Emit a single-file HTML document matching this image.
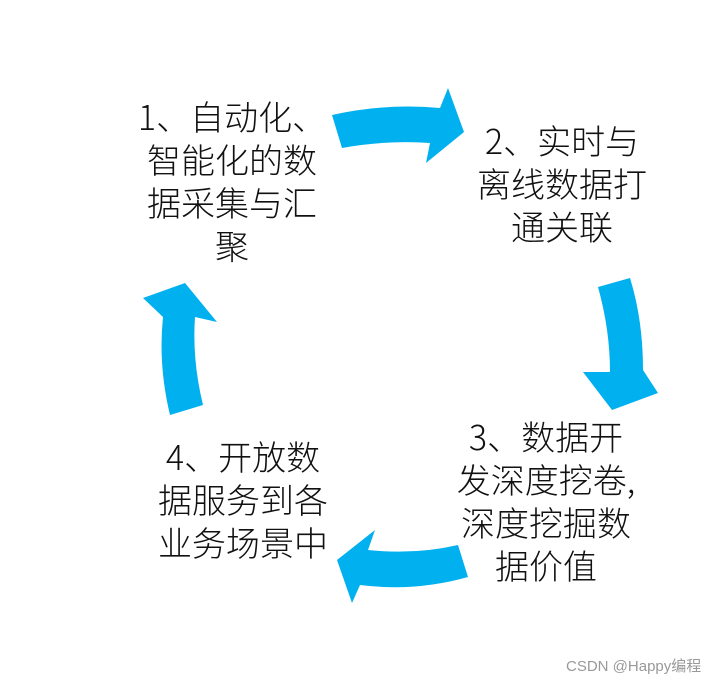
<!DOCTYPE html>
<html><head><meta charset="utf-8"><style>
body{margin:0;width:723px;height:684px;background:#fff;position:relative;overflow:hidden;font-family:"Liberation Sans","Noto Sans CJK SC",sans-serif}
.t{position:absolute;font-family:"Noto Sans CJK SC","Liberation Sans",sans-serif;font-size:34px;line-height:43px;text-align:center;color:#111;white-space:nowrap;transform:translateX(-50%);font-weight:300}
.w{position:absolute;left:566px;top:655px;font-size:15px;color:#999}
svg{position:absolute;left:0;top:0}
</style></head><body>
<svg width="723" height="684">
<g fill="#00b0ef">
<path d="M332,115 Q385,103 440,108 L448,88 L464,132 L426,163 L430,143 Q385,140 342,148 Z"/>
<path d="M598,287 L630,278 Q643,320 643,370 L658,393 L612,410 L583,372 L610,372 Q610,330 598,287 Z"/>
<path d="M458,545 L468,577 Q415,592 360,585 L352,603 L337,560 L375,530 L368,550 Q415,555 458,545 Z"/>
<path d="M170,415 L203,405 Q192,360 195,317 L217,322 L185,283 L143,298 L163,317 Q158,365 170,415 Z"/>
</g>
</svg>
<div class="t" style="left:232px;top:94px">1、自动化、<br>智能化的数<br>据采集与汇<br>聚</div>
<div class="t" style="left:562px;top:118px">2、实时与<br>离线数据打<br>通关联</div>
<div class="t" style="left:546px;top:414px">3、数据开<br>发深度挖卷,<br>深度挖掘数<br>据价值</div>
<div class="t" style="left:243px;top:434px">4、开放数<br>据服务到各<br>业务场景中</div>
<div class="w">CSDN @Happy编程</div>
</body></html>
